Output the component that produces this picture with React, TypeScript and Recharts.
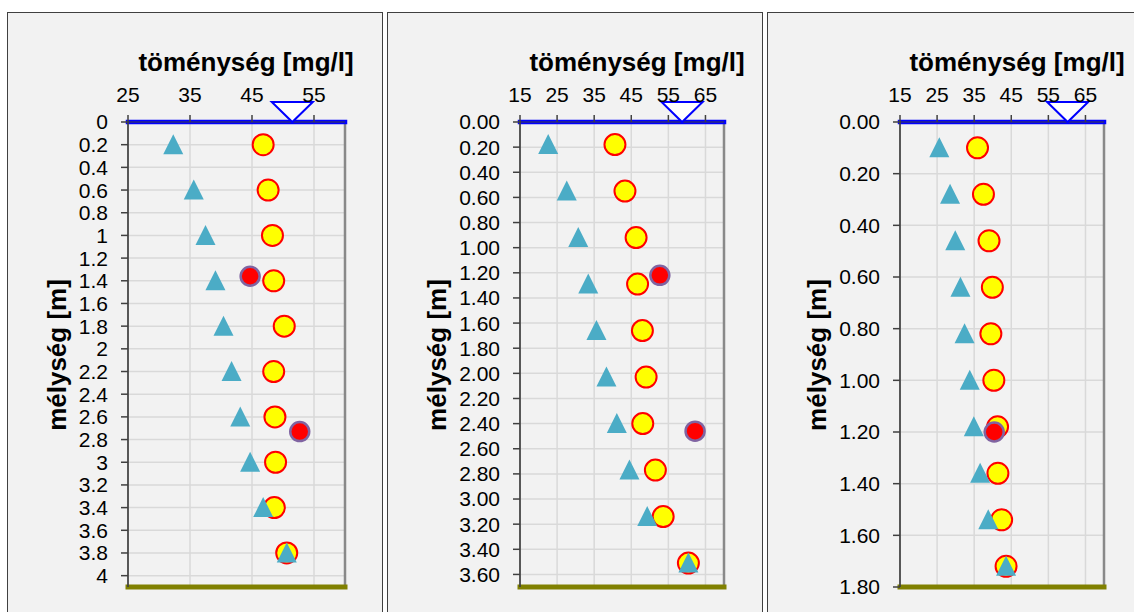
import { ScatterChart, Scatter, XAxis, YAxis, CartesianGrid, ReferenceLine } from "recharts";

const FONT = '"Liberation Sans", Arial, Helvetica, sans-serif';

// panel 1
const depthA = [0.2, 0.6, 1.0, 1.4, 1.8, 2.2, 2.6, 3.0, 3.4, 3.8];
const triA = [32.3, 35.6, 37.5, 39.1, 40.4, 41.7, 43.1, 44.7, 46.8, 50.6];
const yellowA = [46.8, 47.6, 48.3, 48.5, 50.2, 48.5, 48.7, 48.8, 48.6, 50.6];
const redDepthA = [1.36, 2.73];
const redA = [44.7, 52.7];
const waterA = [51.5];
const xTicksA = [25, 35, 45, 55];
const yTicksA = [0, 0.2, 0.4, 0.6, 0.8, 1, 1.2, 1.4, 1.6, 1.8, 2, 2.2, 2.4, 2.6, 2.8, 3, 3.2, 3.4, 3.6, 3.8, 4];

// panel 2
const depthB = [0.18, 0.55, 0.92, 1.29, 1.66, 2.03, 2.4, 2.77, 3.14, 3.51];
const triB = [22.6, 27.6, 30.7, 33.4, 35.6, 38.3, 41.1, 44.5, 49.3, 60.4];
const yellowB = [40.6, 43.3, 46.3, 46.7, 48.0, 49.0, 48.1, 51.5, 53.6, 60.4];
const redDepthB = [1.22, 2.46];
const redB = [52.7, 62.2];
const waterB = [58.7];
const xTicksB = [15, 25, 35, 45, 55, 65];
const yTicksB = [0, 0.2, 0.4, 0.6, 0.8, 1, 1.2, 1.4, 1.6, 1.8, 2, 2.2, 2.4, 2.6, 2.8, 3, 3.2, 3.4, 3.6];

// panel 3
const depthC = [0.1, 0.28, 0.46, 0.64, 0.82, 1.0, 1.18, 1.36, 1.54, 1.72];
const triC = [25.6, 28.5, 29.9, 31.3, 32.4, 33.8, 34.9, 36.6, 38.8, 43.6];
const yellowC = [35.9, 37.5, 39.0, 39.9, 39.5, 40.3, 41.3, 41.4, 42.4, 43.6];
const redDepthC = [1.2];
const redC = [40.4];
const waterC = [60.2];
const xTicksC = [15, 25, 35, 45, 55, 65];
const yTicksC = [0, 0.2, 0.4, 0.6, 0.8, 1, 1.2, 1.4, 1.6, 1.8];

const pts = (xs: number[], ys: number[]) => xs.map((x, i) => ({ x, y: ys[i] }));

const TriangleShape = (p: any) => (
  <polygon
    points={`${p.cx},${p.cy - 10.5} ${p.cx - 10},${p.cy + 9.5} ${p.cx + 10},${p.cy + 9.5}`}
    fill="#4bacc6"
  />
);
const YellowShape = (p: any) => (
  <circle cx={p.cx} cy={p.cy} r={10.5} fill="#ffff00" stroke="#ff0000" strokeWidth={2} />
);
const RedShape = (p: any) => (
  <circle cx={p.cx} cy={p.cy} r={9.5} fill="#ff0000" stroke="#8064a2" strokeWidth={2.5} />
);
const WaterShape = (p: any) => (
  <polygon
    points={`${p.cx - 20.5},${p.cy - 20} ${p.cx + 20.5},${p.cy - 20} ${p.cx},${p.cy}`}
    fill="#ffffff"
    stroke="#0000ff"
    strokeWidth={2}
  />
);

type PanelProps = {
  left: number;
  width: number;
  mLeft: number;
  mRight: number;
  xDomain: number[];
  xTicks: number[];
  yMax: number;
  yTicks: number[];
  fmt: (v: number) => string;
  depth: number[];
  tri: number[];
  yellow: number[];
  redDepth: number[];
  red: number[];
  water: number[];
};

function Panel(p: PanelProps) {
  const tick = { fill: "#000", fontSize: 21, fontFamily: FONT };
  return (
    <ScatterChart
      width={p.width}
      height={612}
      margin={{ top: 92, right: p.mRight, bottom: 25, left: p.mLeft }}
      style={{ position: "absolute", left: p.left, top: 0 }}
    >
      <CartesianGrid stroke="#d9d9d9" strokeWidth={1.5} />
      <ReferenceLine x={p.xDomain[1]} stroke="#898989" strokeWidth={2.5} />
      <XAxis
        type="number"
        dataKey="x"
        orientation="top"
        domain={p.xDomain}
        ticks={p.xTicks}
        interval={0}
        height={30}
        tick={tick}
        tickSize={7}
        tickMargin={13}
        axisLine={{ stroke: "#404040" }}
        tickLine={{ stroke: "#404040", strokeWidth: 1.5 }}
      />
      <YAxis
        type="number"
        dataKey="y"
        reversed
        domain={[0, p.yMax]}
        ticks={p.yTicks}
        interval={0}
        width={60}
        tick={tick}
        tickSize={7}
        tickMargin={13}
        tickFormatter={p.fmt}
        axisLine={{ stroke: "#404040", strokeWidth: 1.7 }}
        tickLine={{ stroke: "#404040", strokeWidth: 1.5 }}
      />
      <ReferenceLine y={p.yMax} stroke="#808000" strokeWidth={5} strokeLinecap="square" />
      <ReferenceLine y={0} stroke="#0000ff" strokeWidth={4.5} strokeLinecap="square" />
      <Scatter data={pts(p.yellow, p.depth)} shape={YellowShape} isAnimationActive={false} />
      <Scatter data={pts(p.red, p.redDepth)} shape={RedShape} isAnimationActive={false} />
      <Scatter data={pts(p.tri, p.depth)} shape={TriangleShape} isAnimationActive={false} />
      <Scatter data={pts(p.water, [0])} shape={WaterShape} isAnimationActive={false} />
    </ScatterChart>
  );
}

const panelBox = (left: number, width: number): React.CSSProperties => ({
  position: "absolute",
  left,
  top: 12,
  width,
  height: 600,
  boxSizing: "border-box",
  border: "1px solid #404040",
  borderBottom: "none",
  background: "#f2f2f2",
});

export default function App() {
  const general = (v: number) => String(v);
  const fixed2 = (v: number) => v.toFixed(2);
  const titleStyle = { fontFamily: FONT, fontSize: 26, fontWeight: 700, fill: "#000" };
  const xTitles = [246, 637, 1017];
  const yTitles = [65.5, 445.5, 825.5];
  return (
    <div
      style={{
        position: "absolute",
        left: 0,
        top: 0,
        width: 1134,
        height: 612,
        overflow: "hidden",
        background: "#fff",
      }}
    >
      <div style={panelBox(7, 376)} />
      <div style={panelBox(387, 376)} />
      <div style={panelBox(767, 380)} />
      <Panel
        left={0}
        width={383}
        mLeft={68}
        mRight={38}
        xDomain={[25, 60]}
        xTicks={xTicksA}
        yMax={4.1}
        yTicks={yTicksA}
        fmt={general}
        depth={depthA}
        tri={triA}
        yellow={yellowA}
        redDepth={redDepthA}
        red={redA}
        water={waterA}
      />
      <Panel
        left={387}
        width={376}
        mLeft={73}
        mRight={39}
        xDomain={[15, 70]}
        xTicks={xTicksB}
        yMax={3.7}
        yTicks={yTicksB}
        fmt={fixed2}
        depth={depthB}
        tri={triB}
        yellow={yellowB}
        redDepth={redDepthB}
        red={redB}
        water={waterB}
      />
      <Panel
        left={767}
        width={367}
        mLeft={73}
        mRight={30}
        xDomain={[15, 70]}
        xTicks={xTicksC}
        yMax={1.8}
        yTicks={yTicksC}
        fmt={fixed2}
        depth={depthC}
        tri={triC}
        yellow={yellowC}
        redDepth={redDepthC}
        red={redC}
        water={waterC}
      />
      <svg
        width={1134}
        height={612}
        style={{ position: "absolute", left: 0, top: 0, pointerEvents: "none" }}
      >
        {xTitles.map((x) => (
          <text key={x} x={x} y={71} textAnchor="middle" style={titleStyle}>
            töménység [mg/l]
          </text>
        ))}
        {yTitles.map((x) => (
          <text
            key={x}
            x={x}
            y={355}
            textAnchor="middle"
            transform={`rotate(-90, ${x}, 355)`}
            style={titleStyle}
          >
            mélység [m]
          </text>
        ))}
      </svg>
    </div>
  );
}
